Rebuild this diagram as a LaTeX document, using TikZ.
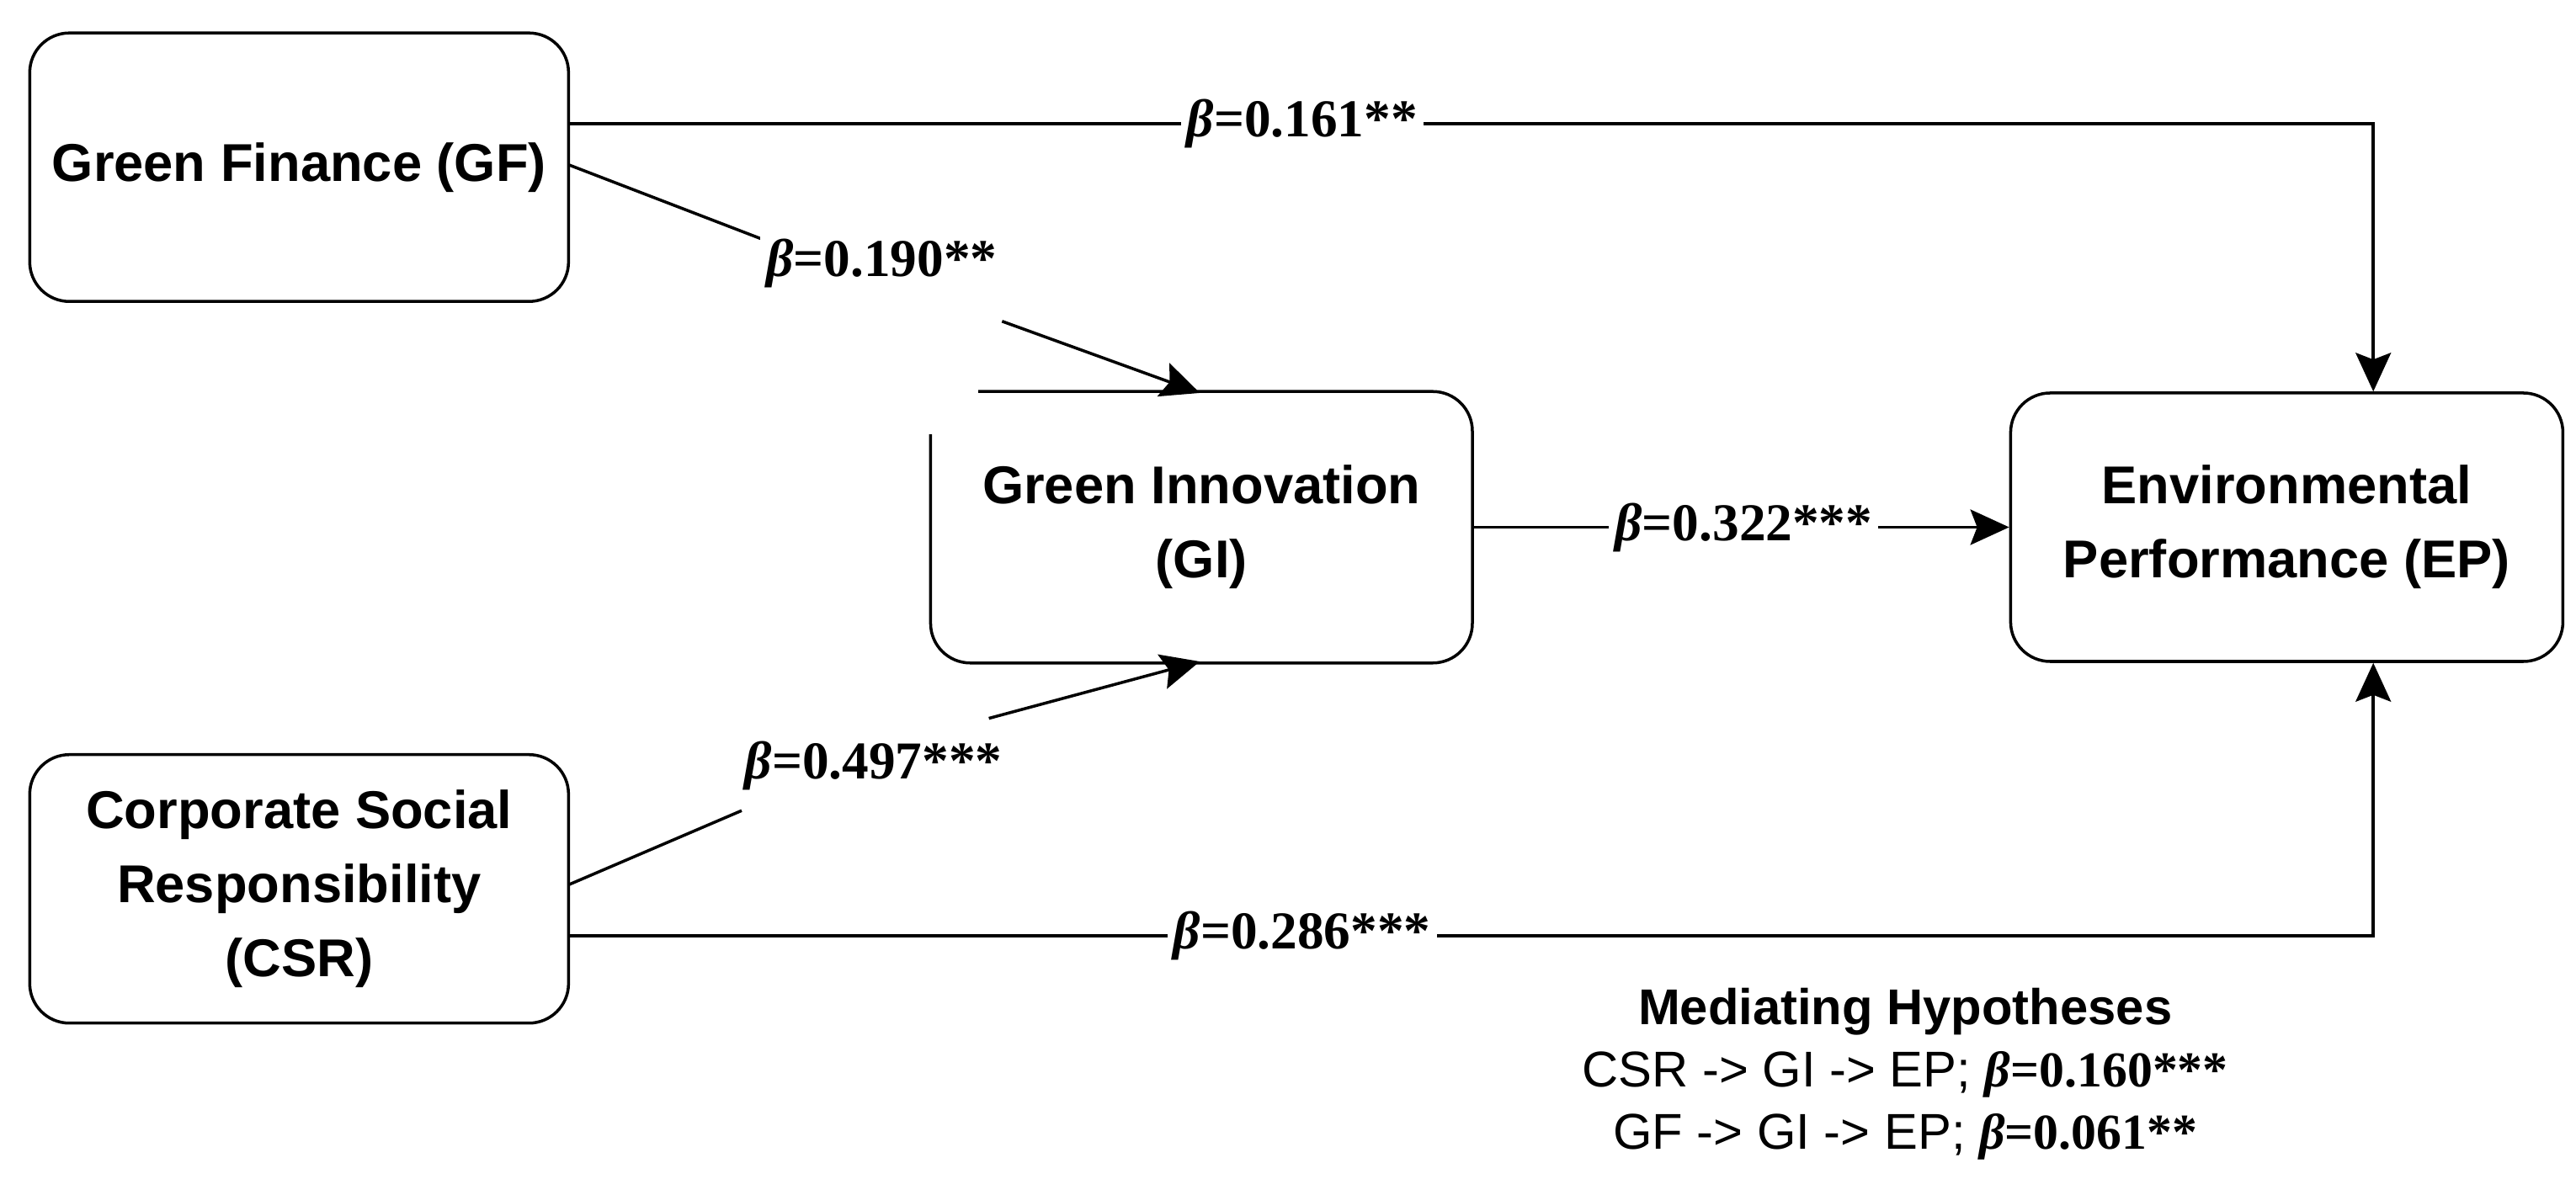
\documentclass[tikz,border=0pt]{standalone}
\usepackage{fontspec}
\setmainfont{Liberation Sans}
\newfontfamily\betafont{Liberation Serif}
\usetikzlibrary{arrows.meta}
\usetikzlibrary{calc}
\newcommand{\bval}[1]{{\betafont\bfseries\itshape β\upshape=#1}}

\begin{document}
\begin{tikzpicture}[
    x=0.01958cm, y=-0.01958cm,
    >={Stealth[length=4.6mm,width=4.2mm,inset=0.8mm]},
    % node styles
    box/.style = {
      draw,
      line width=1pt,
      rounded corners=0.47cm,
      minimum width=6.4cm,
      minimum height=3.19cm,
      align=center,
      font=\fontsize{18}{25}\selectfont\bfseries
    },
    lbl/.style = {
      font=\fontsize{18}{29}\selectfont,
      inner sep=2pt,
      fill=white
    },
    % arrow styles
    arr/.style = {->, line width=1pt},
    seg/.style = {line width=1pt}
  ]
  \useasboundingbox (0,0) rectangle (1563,725);

  % --- Nodes
  \node[box] (gf) at (181.5,101.5) {Green Finance (GF)};
  \node[box] (csr) at (181.5,539.5) {Corporate Social\\Responsibility\\(CSR)};
  \node[box, draw=none] (gi) at (729,320) {Green Innovation\\(GI)};
  \node[box, minimum width=6.56cm] (ep) at (1387.5,320) {Environmental\\Performance (EP)};

  \draw[seg, rounded corners=0.47cm]
    ($(gi.north west)+(29,0)$) -- (gi.north east) -- (gi.south east)
    -- (gi.south west) -- ($(gi.north west)+(0,26)$);

  % --- Coordinates
  \coordinate (gfTop) at (345,75);
  \coordinate (gfOut) at (345,100);
  \coordinate (csrOut) at (345,537);
  \coordinate (csrBot) at (345,568);
  \coordinate (epTop) at ($(ep.north)+(52.5,0)$);
  \coordinate (epBot) at ($(ep.south)+(52.5,0)$);
  \coordinate (giTop) at (728,238.5);
  \coordinate (giBot) at (728,401.5);
  \coordinate (up1) at (462,145);
  \coordinate (dn1) at (608,195);
  \coordinate (up2) at (450,492);
  \coordinate (dn2) at (600,436);

  % --- Arrows
  \draw[arr] (gfTop) -| (epTop);
  \draw[arr] (csrBot) -| (epBot);
  \draw[arr] (gi.east) -- (ep.west);
  \draw[seg] (gfOut) -- (up1);
  \draw[arr] (dn1) -- (giTop);
  \draw[seg] (csrOut) -- (up2);
  \draw[arr] (dn2) -- (giBot);

  % --- Labels
  \node[lbl] (b1) at (790,75) {\bval{0.161**}};
  \node[lbl] (b2) at (535,160) {\bval{0.190**}};
  \node[lbl] (b3) at (530,465) {\bval{0.497***}};
  \node[lbl] (b4) at (1058,320) {\bval{0.322***}};
  \node[lbl] (b5) at (790,568) {\bval{0.286***}};

  \node[lbl, align=center, font=\fontsize{17}{21}\selectfont] (med) at (1156,652)
    {\bfseries Mediating Hypotheses\\
    CSR -> GI -> EP; \bval{0.160***}\\
    GF -> GI -> EP; \bval{0.061**}};

\end{tikzpicture}
\end{document}
